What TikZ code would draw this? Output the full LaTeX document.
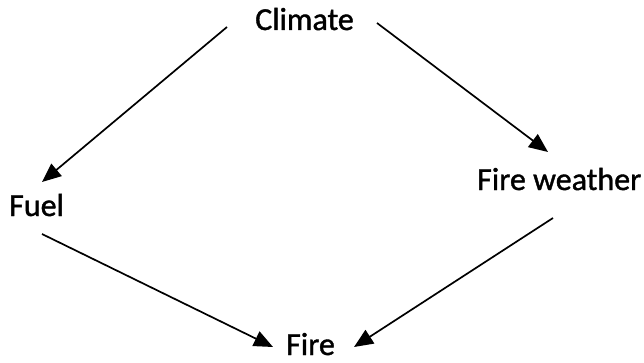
\documentclass[tikz,border=0pt]{standalone}
\usepackage{fontspec}
\setmainfont{Carlito}[BoldFont=Carlito,BoldFeatures={FakeBold=1.2}]
\usetikzlibrary{arrows.meta}
\begin{document}
\begin{tikzpicture}[x=1pt,y=-1pt,
  lbl/.style={inner sep=0pt,anchor=base west,font=\fontsize{32}{32}\selectfont\bfseries},
  conn/.style={line width=1.7pt,-{Triangle[length=19pt,width=16pt]}}]
\useasboundingbox[fill=white] (0,0) rectangle (644,363);
\node[lbl] (climate) at (255,30) {Climate};
\node[lbl] (fuel) at (9,216) {Fuel};
\node[lbl] (fw) at (477,190) {Fire weather};
\node[lbl] (fire) at (286,355) {Fire};
\coordinate (a1) at (227,27);
\coordinate (b1) at (42,182);
\coordinate (a2) at (377,23);
\coordinate (b2) at (548,152);
\coordinate (a3) at (42,234);
\coordinate (b3) at (273,347);
\coordinate (a4) at (553,218);
\coordinate (b4) at (354,347);
\draw[conn] (a1) -- (b1);
\draw[conn] (a2) -- (b2);
\draw[conn] (a3) -- (b3);
\draw[conn] (a4) -- (b4);
\end{tikzpicture}
\end{document}
